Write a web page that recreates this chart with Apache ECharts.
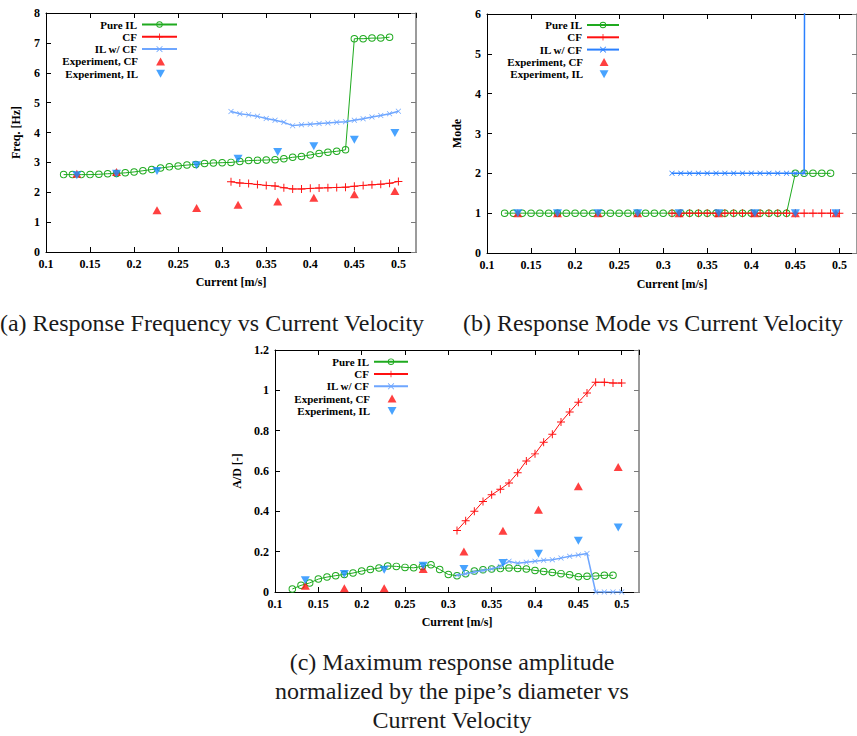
<!DOCTYPE html>
<html><head><meta charset="utf-8">
<script src="https://cdn.jsdelivr.net/npm/echarts@6/dist/echarts.min.js"></script>
<style>html,body{margin:0;padding:0;background:#fff}#c{width:857px;height:736px}</style>
</head><body><div id="c"></div><script>
// ---------- data ----------
const currentIL = [0.12,0.13,0.14,0.15,0.16,0.17,0.18,0.19,0.20,0.21,0.22,0.23,0.24,0.25,0.26,0.27,0.28,0.29,0.30,0.31,0.32,0.33,0.34,0.35,0.36,0.37,0.38,0.39,0.40,0.41,0.42,0.43,0.44,0.45,0.46,0.47,0.48,0.49];
const currentCoupled = [0.31,0.32,0.33,0.34,0.35,0.36,0.37,0.38,0.39,0.40,0.41,0.42,0.43,0.44,0.45,0.46,0.47,0.48,0.49,0.50];
const currentExp = [0.135,0.18,0.226,0.271,0.318,0.363,0.404,0.45,0.496];

const freqPureIL = [2.59,2.59,2.59,2.59,2.6,2.62,2.63,2.65,2.68,2.72,2.76,2.81,2.85,2.88,2.91,2.93,2.96,2.98,2.99,3.0,3.03,3.06,3.07,3.08,3.09,3.12,3.17,3.2,3.25,3.3,3.34,3.37,3.42,7.14,7.14,7.16,7.16,7.19];
const freqCF = [2.35,2.31,2.29,2.26,2.23,2.21,2.15,2.11,2.11,2.13,2.14,2.15,2.16,2.17,2.2,2.23,2.25,2.27,2.3,2.36];
const freqILwCF = [4.7,4.63,4.59,4.54,4.47,4.41,4.34,4.23,4.26,4.28,4.3,4.32,4.34,4.36,4.41,4.46,4.52,4.57,4.63,4.71];
const freqExpCF = [2.62,2.68,1.4,1.47,1.58,1.69,1.82,1.93,2.04];
const freqExpIL = [2.57,2.62,2.71,2.9,3.12,3.35,3.54,3.76,3.98];

const modePureIL = [1,1,1,1,1,1,1,1,1,1,1,1,1,1,1,1,1,1,1,1,1,1,1,1,1,1,1,1,1,1,1,1,1,2,2,2,2,2];
const modeCF = [1,1,1,1,1,1,1,1,1,1,1,1,1,1,1,1,1,1,1,1];
const modeILwCF = [2,2,2,2,2,2,2,2,2,2,2,2,2,2,2,2,99,99,99,99];
const modeExpCF = [1,1,1,1,1,1,1,1,1];
const modeExpIL = [1,1,1,1,1,1,1,1,1];

const ampPureIL = [0.015,0.033,0.045,0.064,0.074,0.081,0.087,0.094,0.104,0.112,0.119,0.129,0.127,0.122,0.12,0.127,0.135,0.112,0.087,0.081,0.091,0.104,0.11,0.114,0.116,0.119,0.117,0.114,0.107,0.102,0.097,0.091,0.086,0.076,0.078,0.079,0.083,0.083];
const ampCF = [0.305,0.353,0.4,0.449,0.482,0.51,0.541,0.591,0.65,0.685,0.743,0.782,0.843,0.893,0.941,0.987,1.04,1.04,1.036,1.036];
const ampILwCF = [0.083,0.091,0.099,0.107,0.114,0.127,0.152,0.142,0.147,0.152,0.157,0.16,0.168,0.177,0.183,0.191,0,0,0,0];
const ampExpCF = [0.031,0.018,0.018,0.114,0.201,0.304,0.408,0.525,0.62];
const ampExpIL = [0.058,0.089,0.11,0.13,0.114,0.144,0.19,0.254,0.32];

const legendNames = ['Pure IL','CF','IL w/ CF','Experiment, CF','Experiment, IL'];
const xAxisTitle = 'Current [m/s]';
const yAxisTitles = ['Freq. [Hz]','Mode','A/D [-]'];
const captions = [
  ['(a) Response Frequency vs Current Velocity'],
  ['(b) Response Mode vs Current Velocity'],
  ['(c) Maximum response amplitude','normalized by the pipe\u2019s diameter vs','Current Velocity']
];

// ---------- styling ----------
const FONT = '"Liberation Serif", "DejaVu Serif", serif';
const GREEN = '#1faa1f', RED = '#ff1010', BLUE_LIGHT = '#6ea6ff', BLUE_DARK = '#2a80ff', EXP_BLUE = '#1a8cff';
const RING = 'path://M0,5A5,5 0 1,1 10,5A5,5 0 1,1 0,5Z M1.3,5A3.7,3.7 0 1,0 8.7,5A3.7,3.7 0 1,0 1.3,5Z';
const PLUS = 'path://M0,4.4H10V5.6H0Z M4.4,0H5.6V10H4.4Z';
const CROSS = 'path://M0.9,0L5,4.1L9.1,0L10,0.9L5.9,5L10,9.1L9.1,10L5,5.9L0.9,10L0,9.1L4.1,5L0,0.9Z';
const TRI_UP = 'path://M5,0L10,9L0,9Z';
const TRI_DOWN = 'path://M0,0L10,0L5,9Z';

const W = 857;
const grids = [
  {left: 46, top: 13, width: 370, height: 239},
  {left: 487, top: 14, width: 374, height: 239},
  {left: 275, top: 350, width: 364, height: 242}
];
const yRanges = [[0, 8, 1], [0, 6, 1], [0, 1.2, 0.2]];
const yNameGaps = [24, 24, 32];
const xNameGaps = [24, 25, 24];

function pairs(xs, ys) { return xs.map((x, i) => [x, ys[i]]); }

const xAxes = [], yAxes = [];
grids.forEach((g, i) => {
  const lab = {fontFamily: FONT, fontWeight: 'bold', fontSize: 12, color: '#000'};
  xAxes.push({type: 'value', gridIndex: i, min: 0.1, max: 0.52, interval: 0.05, position: 'bottom',
    axisLine: {show: true, onZero: false, lineStyle: {color: '#000', width: 1}},
    axisTick: {show: true, inside: true, length: 5, lineStyle: {color: '#000'}},
    axisLabel: Object.assign({showMaxLabel: false, margin: 6}, lab),
    splitLine: {show: false},
    name: xAxisTitle, nameLocation: 'middle', nameGap: xNameGaps[i],
    nameTextStyle: {fontFamily: FONT, fontWeight: 'bold', fontSize: 12, color: '#000'}});
  xAxes.push({type: 'value', gridIndex: i, min: 0.1, max: 0.52, interval: 0.05, position: 'top',
    axisLine: {show: true, onZero: false, lineStyle: {color: '#000', width: 1}},
    axisTick: {show: true, inside: true, length: 5, lineStyle: {color: '#000'}},
    axisLabel: {show: false}, splitLine: {show: false}});
  const [ymin, ymax, yint] = yRanges[i];
  yAxes.push({type: 'value', gridIndex: i, min: ymin, max: ymax, interval: yint, position: 'left',
    axisLine: {show: true, onZero: false, lineStyle: {color: '#000', width: 1}},
    axisTick: {show: true, inside: true, length: 5, lineStyle: {color: '#000'}},
    axisLabel: Object.assign({margin: 6}, lab),
    splitLine: {show: false},
    name: yAxisTitles[i], nameLocation: 'middle', nameGap: yNameGaps[i], nameRotate: 90,
    nameTextStyle: {fontFamily: FONT, fontWeight: 'bold', fontSize: 12, color: '#000'}});
  yAxes.push({type: 'value', gridIndex: i, min: ymin, max: ymax, interval: yint, position: 'right',
    axisLine: {show: true, onZero: false, lineStyle: {color: '#7a7a7a', width: 1.5}},
    axisTick: {show: true, inside: true, length: 5, lineStyle: {color: '#7a7a7a'}},
    axisLabel: {show: false}, splitLine: {show: false}});
});

const panels = ['a', 'b', 'c'];
const panelData = [
  [freqPureIL, freqCF, freqILwCF, freqExpCF, freqExpIL],
  [modePureIL, modeCF, modeILwCF, modeExpCF, modeExpIL],
  [ampPureIL, ampCF, ampILwCF, ampExpCF, ampExpIL]
];
const series = [];
panels.forEach((p, i) => {
  const d = panelData[i];
  const ax = {xAxisIndex: i * 2, yAxisIndex: i * 2, clip: true, silent: true, animation: false};
  const blue = i === 1 ? BLUE_DARK : BLUE_LIGHT;
  series.push(Object.assign({type: 'line', name: 'Pure IL#' + p, data: pairs(currentIL, d[0]),
    symbol: RING, symbolSize: 7.5, itemStyle: {color: GREEN}, lineStyle: {color: GREEN, width: 1}, z: 2}, ax));
  series.push(Object.assign({type: 'line', name: 'CF#' + p, data: pairs(currentCoupled, d[1]),
    symbol: PLUS, symbolSize: 8, itemStyle: {color: RED}, lineStyle: {color: RED, width: 1}, z: 3}, ax));
  series.push(Object.assign({type: 'line', name: 'IL w/ CF#' + p, data: pairs(currentCoupled, d[2]),
    symbol: CROSS, symbolSize: 5.5, itemStyle: {color: blue}, lineStyle: {color: blue, width: 1.5}, z: 4}, ax));
  series.push(Object.assign({type: 'scatter', name: 'Experiment, CF#' + p, data: pairs(currentExp, d[3]),
    symbol: 'triangle', symbolSize: [9, 8], itemStyle: {color: RED}, z: 5}, ax));
  series.push(Object.assign({type: 'scatter', name: 'Experiment, IL#' + p, data: pairs(currentExp, d[4]),
    symbol: 'triangle', symbolRotate: 180, symbolSize: [9, 8], itemStyle: {color: EXP_BLUE}, z: 6}, ax));
});

// legend placement: icon right edge, icon width, row centres
const legendPlaces = [
  {iconRight: 178, iconW: 35, rows: [24.5, 36.8, 49.1, 61.4, 73.7]},
  {iconRight: 620, iconW: 32, rows: [25, 37.3, 49.6, 61.9, 74.2]},
  {iconRight: 409, iconW: 34, rows: [361.7, 374, 386.3, 398.6, 410.9]}
];
const TRI_W = 9;
const legends = [];
panels.forEach((p, i) => {
  const lp = legendPlaces[i];
  legendNames.forEach((n, k) => {
    const isExp = k >= 3;
    const pad = isExp ? (lp.iconW - TRI_W) / 2 : 0;
    const item = {name: n + '#' + p};
    if (isExp) item.icon = k === 3 ? TRI_UP : TRI_DOWN;
    legends.push({
      data: [item], orient: 'vertical', align: 'right', padding: 0,
      right: W - lp.iconRight + pad, top: lp.rows[k] - 6,
      itemWidth: isExp ? TRI_W : lp.iconW, itemHeight: 8, itemGap: 0, selectedMode: false,
      formatter: s => s.split('#')[0],
      textStyle: {fontFamily: FONT, fontWeight: 'bold', fontSize: 11, lineHeight: 12, color: '#000',
        padding: [0, pad, 0, 0]}
    });
  });
});

const captionPlaces = [
  {x: 212, ys: [323]},
  {x: 653, ys: [323]},
  {x: 452, ys: [662, 691, 720]}
];
const graphics = [];
captions.forEach((lines, i) => {
  lines.forEach((t, k) => {
    graphics.push({type: 'text', x: captionPlaces[i].x, y: captionPlaces[i].ys[k], silent: true,
      style: {text: t, fontFamily: FONT, fontSize: 24, fill: '#1a1a1a', align: 'center', verticalAlign: 'middle'}});
  });
});

const chart = echarts.init(document.getElementById('c'), null, {renderer: 'svg'});
chart.setOption({
  animation: false,
  backgroundColor: '#fff',
  grid: grids.map(g => Object.assign({containLabel: false}, g)),
  xAxis: xAxes,
  yAxis: yAxes,
  legend: legends,
  series: series,
  graphic: graphics
});
</script></body></html>
